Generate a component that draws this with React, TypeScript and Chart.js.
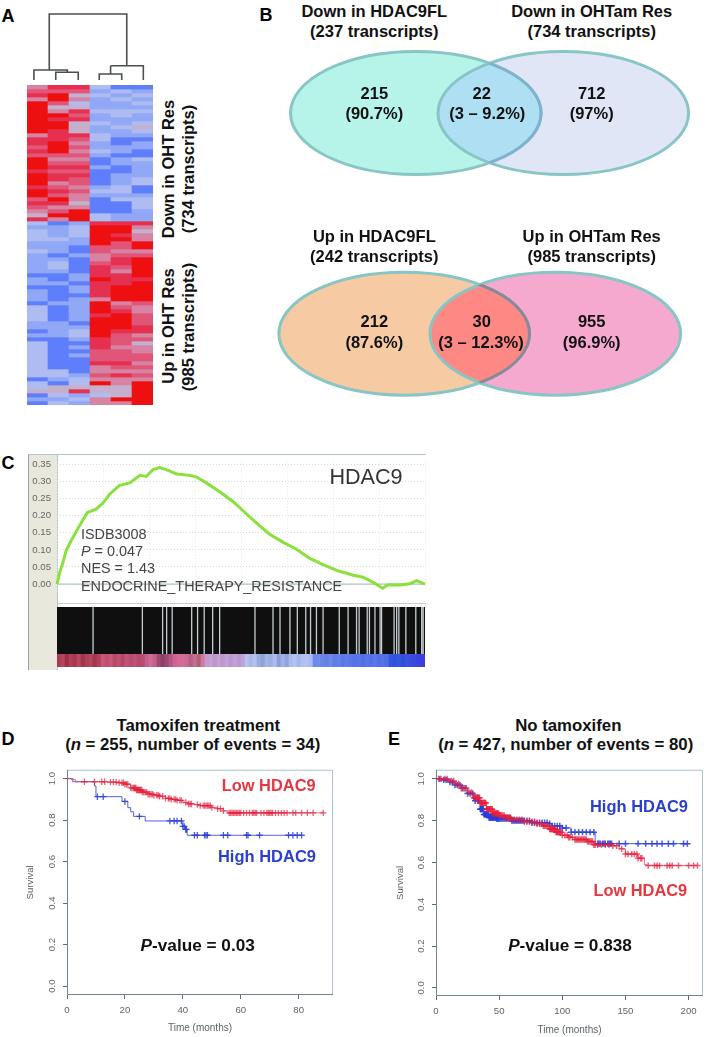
import React, { useEffect, useRef } from "react";
import { Chart, registerables } from "chart.js";

Chart.register(...registerables);

const FONT = '"Liberation Sans", Arial, sans-serif';

// ---------- Panel A: heatmap levels (1 = strong blue ... 8 = strong red), rows top to bottom
const heatCol1 = [5,6,7,5,8,8,8,8,8,8,8,8,5,7,7,6,7,6,8,8,8,7,8,8,8,7,8,8,6,7,6,5,4,7,3,2,3,3,3,2,2,3,2,2,2,2,2,1,2,2,1,2,2,2,1,3,3,3,3,2,2,1,2,1,3,3,3,3,3,3,3,3,3,1,3,3,4,1,2,1];
const heatCol2 = [7,6,8,8,6,4,5,8,7,8,8,7,7,7,8,8,8,6,5,6,7,6,7,7,5,6,7,6,8,7,5,6,8,5,1,2,2,2,3,2,2,2,1,2,3,3,2,1,1,2,1,1,1,1,2,1,1,1,1,2,2,2,2,1,1,1,1,1,1,1,1,3,3,2,1,4,4,3,2,3];
const heatCol3 = [7,6,4,5,3,4,7,6,7,4,4,4,7,6,5,6,5,6,5,6,7,6,7,6,6,5,6,5,5,4,5,8,8,8,2,3,3,3,2,2,1,1,2,1,1,1,1,2,2,1,2,2,1,2,2,2,2,2,2,1,2,3,3,2,1,2,1,2,1,1,1,1,2,3,3,4,7,2,3,2];
const heatCol4 = [3,2,3,2,2,2,3,2,2,3,2,2,3,3,2,2,3,2,1,1,2,1,1,1,1,2,3,2,1,1,1,1,3,3,7,8,8,8,8,8,6,6,5,5,6,7,7,7,8,7,7,7,7,5,8,8,8,7,8,8,8,8,8,7,7,7,6,6,6,7,5,5,6,5,8,4,4,3,5,5];
const heatCol5 = [1,3,2,3,2,2,3,3,2,2,3,2,2,1,1,2,2,1,2,2,1,1,2,2,2,3,3,2,3,1,1,1,2,2,7,8,8,7,8,6,6,5,6,7,7,6,5,7,7,7,8,8,8,8,5,6,7,8,8,8,8,7,6,6,6,5,6,6,6,7,6,5,7,5,5,4,4,4,8,5];
const heatCol6 = [1,2,3,2,3,2,3,2,2,3,4,3,2,1,2,2,1,1,3,2,2,2,2,3,3,1,1,2,3,3,3,2,2,2,7,5,4,5,5,8,8,5,6,8,8,8,8,8,7,8,8,8,8,8,6,5,5,6,6,6,7,7,5,6,4,5,5,6,6,5,6,5,6,5,8,8,8,8,8,8];
const heatColumns = [heatCol1, heatCol2, heatCol3, heatCol4, heatCol5, heatCol6];
const heatSamples = ["S1", "S2", "S3", "S4", "S5", "S6"];
const heatPalette = ["#5f7efb","#90a8f6","#aebcf2","#c4b0cc","#d683a4","#e05578","#e6304f","#ee1010"];

// dendrogram, x in column units, y as merge height; nulls break the path
const dendroX = [0.33,0.33,1.92,1.92,null,1.37,1.37,2.44,2.44,null,1.06,1.06,4.75,4.75,null,3.98,5.54,5.54,null,3.98,3.98,null,3.44,3.44,4.51,4.51];
const dendroY = [0,10,10,7.7,null,0,7.7,7.7,0,null,10,66,66,14.3,null,14.3,14.3,0,null,14.3,6,null,0,6,6,0];

// ---------- Panel B: Venn ellipses (centre x, centre y, radii) in chart units
const vennCx = [145.8, 293.3, 134.2, 285.3];
const vennCy = [73, 73, 293.7, 293.7];
const vennRx = [125.3, 125.3, 125.3, 125.3];
const vennRy = [61.5, 61.5, 61.5, 61.5];
const vennFill = ["#b6f3e9", "#e1e6f6", "#f6cba4", "#f6a9cf"];
const vennOverlap = ["#aedff3", "#fe8884"];
const vennInnerArc = ["#7eb2d0", "#8e8796"];

// ---------- Panel C: enrichment curve
const esRank = [0,0.7,1.6,2.5,3.9,5.7,7.1,8.2,10.7,12.5,14.3,17,19.8,22.5,24.3,26.1,27.9,29.7,32.5,36.1,37.9,40.6,44.2,47.9,51.5,55.1,57.8,61.5,65.1,68.7,72.3,76,80.5,83.2,85.9,88.5,90,93.2,95.9,97.7,100];
const esScore = [0,0.033,0.063,0.098,0.128,0.163,0.189,0.209,0.22,0.237,0.263,0.289,0.296,0.318,0.315,0.335,0.341,0.335,0.322,0.318,0.313,0.296,0.27,0.241,0.205,0.17,0.146,0.122,0.102,0.075,0.057,0.04,0.026,0.02,0.005,-0.012,-0.002,-0.003,0.001,0.01,0];
const esTicks = [0,0.05,0.1,0.15,0.2,0.25,0.3,0.35];
const rugHits = [9.8,23.2,28.7,29.8,31.3,36.6,38.2,40,42.3,44.2,53.8,58.7,60.6,63.3,65.3,67.6,68.9,70.5,72.3,76.7,79.1,81.4,82.1,84.3,84.9,86.4,87.8,88.2,91.6,92.3,92.9,94.8,97.5,99.1,99.5];
const rankStrip = ["#a83a52","#b8455d","#9e3049","#b04058","#a83850","#b8485f","#a03550","#ae3f58","#b24560","#a5364f","#b04258","#c9557a","#c4506f","#c9567b","#b84a68","#c0506f","#b3466a","#c2527a","#b84b70","#bf5076","#b64a6c","#b84d72","#c4608a","#cf6a95","#c65d8c","#9e4a70","#8a4068","#9a4a74","#b65588","#d06492","#d76a95","#d56c98","#c96a90","#b46080","#c0708f","#b06078","#cf7c9c","#c49ad0","#c8a0d4","#be94cc","#c7a0d2","#bc98ce","#c5a2d6","#b899cf","#c2a0d4","#b89ad0","#bda2d6","#b8c0ee","#aab8e8","#b4c0ee","#98acde","#8ea4d8","#a4b4e4","#9cb0e2","#b0bcec","#8aa0dc","#a0b2e6","#8fa4e0","#acbaec","#b4c2f0","#a6b6ea","#b0c0f0","#b4c2f2","#aabaee","#6c88ec","#6e8aec","#6a84ea","#6480e8","#6c88ec","#5f7ce8","#6480ea","#5a78e6","#5f7cea","#5c78e8","#5674e6","#5a76e8","#5270e6","#5874e8","#5472e8","#5a78ea","#5270e6","#5672e8","#5070e6","#3558e0","#3154de","#3558e0","#3050dc","#3a52e0","#3a4cdf","#3b48e0","#3c42e0","#3b3ee2"];

// ---------- Panel D: Kaplan-Meier, tamoxifen treatment
const survTicks = [0,0.2,0.4,0.6,0.8,1];
const dTimeTicks = [0,20,40,60,80];
const dHighTime = [0,2,9.5,10,19,21,22,23,27,40,41,41.5,81];
const dHighSurv = [1,0.985,0.965,0.913,0.89,0.86,0.84,0.818,0.796,0.77,0.755,0.727,0.727];
const dHighCensor = [10.5,12.5,20,25,35.5,37,38,39.5,40,40.5,41,41.2,44,45,47.5,48,48.5,54,55.5,62,62.5,66.5,76.5,78,79.5,81];
const dLowTime = [0,1.5,3,14,18,20,22,24,26,28,30,32,34,36,38,40,42,44,46,50,52,54,55.5,88.5];
const dLowSurv = [1,0.995,0.985,0.983,0.98,0.973,0.955,0.945,0.935,0.925,0.92,0.915,0.905,0.9,0.895,0.885,0.878,0.875,0.87,0.86,0.855,0.845,0.835,0.835];
const dLowCensor = [6,9.5,12,13,15,16,17,18,19,19.5,20,20.5,21,22,22.5,23,23.3,23.5,23.8,24,24.3,24.5,24.8,25,25.3,25.5,25.8,26,26.5,27,27.5,28,28.5,29,29.5,30,31,31.5,32,33,34,35,35.5,36,37,37.5,38,39,39.5,41,42,42.5,43,45,46,47,47.5,48,48.5,49,49.5,50,52,53,54,56,56.5,57,57.5,58,58.5,59,59.5,60,61,62,63,64,64.5,65,65.5,67,68,69,69.5,70,70.5,71,72,73,74,75,76,78,79,81,83,85,88.5];

// ---------- Panel E: Kaplan-Meier, no tamoxifen
const eTimeTicks = [0,50,100,150,200];
const eHighTime = [0,5,10,15,20,25,30,35,38,42,48,60,75,90,92,100,107,126,200];
const eHighSurv = [1,0.995,0.985,0.97,0.955,0.93,0.895,0.855,0.83,0.815,0.81,0.8,0.79,0.785,0.775,0.765,0.745,0.69,0.69];
const eHighCensor = [3,6,8,11,13,15,17,19,21,23,25,27,29,31,33,34,35,35.5,36,36.5,37,37.5,38,38.5,39,39.5,40,40.5,41,41.5,42,42.5,43,43.5,44,44.5,45,45.5,46,46.5,47,47.5,48,48.5,49,49.5,50,51,52,53,54,55,56,57,58,59,60,61,62,63,64,65,66,67,68,69,70,72,74,76,78,80,82,84,86,88,90,92,94,96,98,100,103,107,110,113,116,119,122,125,128,129,130,132,133,134,136,137,138,139,145,150,160,166,171,175,179,184,188,196,199];
const eLowTime = [0,10,15,20,25,30,35,40,45,50,55,60,70,80,85,90,95,100,105,110,120,125,140,145,150,160,165,167,207];
const eLowSurv = [1,0.99,0.975,0.955,0.935,0.91,0.885,0.855,0.835,0.825,0.815,0.805,0.795,0.785,0.775,0.76,0.745,0.73,0.72,0.71,0.7,0.685,0.68,0.665,0.64,0.62,0.59,0.585,0.585];
const eLowCensor = [2,4,7,9,12,14,16,18,20,22,24,26,28,30,30.5,31,31.5,32,32.5,33,33.5,34,34.5,35,35.5,36,36.5,37,37.5,38,38.5,39,39.5,40,40.5,41,41.5,42,42.5,43,43.5,44,44.5,45,45.5,46,46.5,47,47.5,48,48.5,49,49.5,50,51,52,53,54,55,56,57,58,59,60,62,64,66,68,70,72,74,76,78,80,82,84,85,86,87,88,89,90,90.5,91,91.5,92,92.5,93,93.5,94,94.5,95,95.5,96,96.5,97,97.5,98,98.5,99,100,102,104,105,106,108,110,111,112,113,114,115,116,117,118,119,120,121,122,123,124,125,126,128,131,134,137,140,143,147,150,152,155,157,159,160,162,163,168,173,175,177,183,185,187,192,200,204,207];

// ---------- Helpers
function stepValue(times: number[], surv: number[], t: number) {
  let v = surv[0];
  times.forEach((tt, i) => { if (tt <= t) v = surv[i]; });
  return v;
}

function ChartBox({ left, top, width, height, config, style }: any) {
  const ref = useRef<HTMLCanvasElement>(null);
  useEffect(() => {
    const chart = new Chart(ref.current as HTMLCanvasElement, config);
    return () => chart.destroy();
  }, []);
  return <canvas ref={ref} width={width} height={height} style={{ position: "absolute", left, top, width, height, display: "block", ...style }} />;
}

function Txt({ x, y, size = 16.5, bold = true, color = "#111", rotate = 0, children, left = false }: any) {
  return (
    <div style={{
      position: "absolute", left: x, top: y, whiteSpace: "nowrap", fontFamily: FONT, fontSize: size,
      fontWeight: bold ? 700 : 400, color, lineHeight: 1,
      transform: `translate(${left ? "0" : "-50%"},-50%) rotate(${rotate}deg)`,
    }}>{children}</div>
  );
}

const baseOptions = {
  responsive: false, animation: false as const, devicePixelRatio: 1, maintainAspectRatio: false,
  events: [] as any[],
};
const quiet = { legend: { display: false }, tooltip: { enabled: false }, title: { display: false } };

// ---------- Chart configurations
const heatConfig: any = {
  type: "bar",
  data: {
    labels: heatSamples,
    datasets: heatCol1.map((_, r) => ({
      label: `row ${r}`,
      data: heatColumns.map(() => 1),
      backgroundColor: heatColumns.map((c) => heatPalette[c[r] - 1]),
      borderWidth: 0, barPercentage: 1, categoryPercentage: 1,
    })),
  },
  options: {
    ...baseOptions, plugins: quiet, layout: { padding: 0 },
    scales: {
      x: { display: false, stacked: true },
      y: { display: false, stacked: true, reverse: true, min: 0, max: heatCol1.length },
    },
  },
};

const dendroConfig: any = {
  type: "scatter",
  data: { datasets: [{
    data: dendroX.map((x, i) => ({ x, y: dendroY[i] })),
    showLine: true, spanGaps: false, pointRadius: 0, borderColor: "#4a4f52", borderWidth: 1.6,
  }] },
  options: {
    ...baseOptions, plugins: quiet, layout: { padding: 0 },
    scales: { x: { display: false, min: 0, max: 6 }, y: { display: false, min: 0, max: 70 } },
  },
};

const vennPlugin = {
  id: "venn",
  afterDatasetsDraw(chart: any) {
    const { ctx, scales } = chart;
    const px = (i: number) => scales.x.getPixelForValue(vennCx[i]);
    const py = (i: number) => scales.y.getPixelForValue(vennCy[i]);
    const rx = (i: number) => scales.x.getPixelForValue(vennCx[i] + vennRx[i]) - px(i);
    const ry = (i: number) => Math.abs(scales.y.getPixelForValue(vennCy[i] + vennRy[i]) - py(i));
    const path = (i: number) => { ctx.beginPath(); ctx.ellipse(px(i), py(i), rx(i), ry(i), 0, 0, Math.PI * 2); };
    [0, 1].forEach((pair) => {
      const a = pair * 2, b = a + 1;
      ctx.save();
      path(a); ctx.fillStyle = vennFill[a]; ctx.fill();
      path(b); ctx.fillStyle = vennFill[b]; ctx.fill();
      ctx.save(); path(a); ctx.clip(); path(b); ctx.fillStyle = vennOverlap[pair]; ctx.fill(); ctx.restore();
      ctx.lineWidth = 3; ctx.strokeStyle = "#88c5c5";
      path(a); ctx.stroke();
      path(b); ctx.stroke();
      ctx.save(); path(b); ctx.clip(); path(a); ctx.strokeStyle = vennInnerArc[pair]; ctx.stroke(); ctx.restore();
      ctx.restore();
    });
  },
};
const vennConfig: any = {
  type: "scatter",
  data: { datasets: [{ data: vennCx.map((x, i) => ({ x, y: vennCy[i] })), pointRadius: 0 }] },
  plugins: [vennPlugin],
  options: {
    ...baseOptions, plugins: quiet, layout: { padding: 0 },
    scales: { x: { display: false, min: 0, max: 430 }, y: { display: false, reverse: true, min: 0, max: 365 } },
  },
};

const esConfig: any = {
  type: "scatter",
  data: { datasets: [
    { data: esRank.map((x, i) => ({ x, y: esScore[i] })), showLine: true, pointRadius: 0, borderColor: "#8ae03c", borderWidth: 3, order: 0, clip: false },
    { data: [{ x: 0, y: 0 }, { x: 100, y: 0 }], showLine: true, pointRadius: 0, borderColor: "#9fb5bb", borderWidth: 1, order: 1 },
  ] },
  options: {
    ...baseOptions, plugins: quiet, layout: { padding: { top: 5, bottom: 2, right: 5, left: 0 } },
    scales: {
      x: { type: "linear", min: 0, max: 100, ticks: { display: false, stepSize: 12.5 }, grid: { color: "#e4e8e8", drawTicks: false }, border: { display: false, dash: [1, 2] }, afterFit: (s: any) => { s.height = 0; } },
      y: {
        min: -0.0268, max: 0.3578,
        afterBuildTicks: (s: any) => { s.ticks = esTicks.map((value) => ({ value })); },
        afterFit: (s: any) => { s.width = 29; },
        ticks: { autoSkip: false, padding: 6, color: "#666", font: { family: FONT, size: 9.6 }, callback: (v: any) => Number(v).toFixed(2) },
        grid: { color: "#d5d9d9", drawTicks: false }, border: { display: false, dash: [1, 2] },
      },
    },
  },
};

const rugConfig: any = {
  type: "scatter",
  data: { datasets: [
    { data: rugHits.flatMap((x) => [{ x, y: 0 }, { x, y: 1 }, { x: null, y: null }]), showLine: true, spanGaps: false, pointRadius: 0, borderColor: "#c4ced0", borderWidth: 1.3, order: 0 },
    { data: [{ x: 0, y: 1 }, { x: 100, y: 1 }], showLine: true, pointRadius: 0, borderWidth: 0, fill: "origin", backgroundColor: "#0f0f0f", order: 1 },
  ] },
  options: {
    ...baseOptions, plugins: quiet, layout: { padding: 0 },
    scales: { x: { type: "linear", display: false, min: 0, max: 100 }, y: { display: false, min: 0, max: 1 } },
  },
};

const stripConfig: any = {
  type: "bar",
  data: {
    labels: rankStrip.map((_, i) => i),
    datasets: [{ data: rankStrip.map(() => 1), backgroundColor: rankStrip, borderWidth: 0, barPercentage: 1, categoryPercentage: 1 }],
  },
  options: {
    ...baseOptions, plugins: quiet, layout: { padding: 0 },
    scales: { x: { display: false }, y: { display: false, min: 0, max: 1 } },
  },
};

const framePlugin = {
  id: "frame",
  beforeDatasetsDraw(chart: any) {
    const { ctx, chartArea: a } = chart;
    ctx.save();
    ctx.lineWidth = 1;
    ctx.strokeStyle = "#a9c3cb";
    ctx.beginPath();
    ctx.moveTo(a.left, a.top + 0.5); ctx.lineTo(a.right - 0.5, a.top + 0.5); ctx.lineTo(a.right - 0.5, a.bottom);
    ctx.stroke();
    ctx.strokeStyle = "#70858c";
    ctx.beginPath();
    ctx.moveTo(a.left + 0.5, a.top); ctx.lineTo(a.left + 0.5, a.bottom - 0.5); ctx.lineTo(a.right, a.bottom - 0.5);
    ctx.stroke();
    ctx.restore();
  },
};

function kmConfig(o: any): any {
  const series = (t: number[], s: number[], c: number[], line: string, mark: string, order: number) => [
    { data: t.map((x, i) => ({ x, y: s[i] })), showLine: true, stepped: true, pointRadius: 0, borderColor: line, borderWidth: 1, order: order + 1 },
    { data: c.map((x) => ({ x, y: stepValue(t, s, x) })), showLine: false, pointStyle: "cross", pointRadius: 3.2, pointBorderWidth: o.markWidth, pointBorderColor: mark, pointBackgroundColor: mark, order },
  ];
  return {
    type: "scatter",
    data: { datasets: [
      ...series(o.lowT, o.lowS, o.lowC, "rgba(232,60,90,0.75)", "rgba(230,30,60,0.7)", 0),
      ...series(o.highT, o.highS, o.highC, "rgba(50,70,215,0.85)", "rgba(40,60,220,0.85)", 2),
    ] },
    plugins: [framePlugin],
    options: {
      ...baseOptions, plugins: quiet,
      layout: { padding: o.padding },
      scales: {
        x: {
          type: "linear", min: 0, max: o.xMax,
          afterBuildTicks: (s: any) => { s.ticks = o.xTicks.map((value: number) => ({ value })); },
          afterFit: (s: any) => { s.height = o.xH; },
          ticks: { autoSkip: false, maxRotation: 0, padding: 6, color: "#5b6468", font: { family: FONT, size: 9.6 } },
          grid: { drawOnChartArea: false, tickLength: 4, tickColor: "#5d6b70" }, border: { display: false },
          title: { display: true, text: "Time (months)", color: "#5b6468", font: { family: FONT, size: 10 }, padding: o.xTitlePad },
        },
        y: {
          min: o.yMin, max: o.yMax,
          afterBuildTicks: (s: any) => { s.ticks = survTicks.map((value) => ({ value })); },
          afterFit: (s: any) => { s.width = o.yW; },
          ticks: { autoSkip: false, minRotation: 90, maxRotation: 90, crossAlign: "center", padding: 4, color: "#5b6468", font: { family: FONT, size: 9.6 }, callback: (v: any) => Number(v).toFixed(1) },
          grid: { drawOnChartArea: false, tickLength: 4, tickColor: "#5d6b70" }, border: { display: false },
          title: { display: true, text: "Survival", color: "#5b6468", font: { family: FONT, size: 9.6 }, padding: o.yTitlePad },
        },
      },
    },
  };
}

const dConfig = kmConfig({
  lowT: dLowTime, lowS: dLowSurv, lowC: dLowCensor, highT: dHighTime, highS: dHighSurv, highC: dHighCensor,
  xMax: 91.85, xTicks: dTimeTicks, yMin: -0.0427, yMax: 1.0427, yW: 47, xH: 42, markWidth: 1.3,
  padding: { left: 0, top: 6, right: 7, bottom: 0 }, xTitlePad: 3, yTitlePad: 4.5,
});
const eConfig = kmConfig({
  lowT: eLowTime, lowS: eLowSurv, lowC: eLowCensor, highT: eHighTime, highS: eHighSurv, highC: eHighCensor,
  xMax: 211.4, xTicks: eTimeTicks, yMin: -0.0387, yMax: 1.0434, yW: 44, xH: 41, markWidth: 1.5,
  padding: { left: 0, top: 4, right: 6, bottom: 0 }, xTitlePad: 0.5, yTitlePad: 3,
});

const pVal = (v: string) => (<><i>P</i>-value = {v}</>);
const nEvents = (n: number, e: number) => (<>(<i>n</i> = {n}, number of events = {e})</>);

export default function App() {
  return (
    <div style={{ position: "absolute", left: 0, top: 0, width: 709, height: 1037, background: "#fff", overflow: "hidden", filter: "blur(0.45px)" }}>
      {/* Panel A */}
      <ChartBox left={27} top={10} width={126} height={70} config={dendroConfig} />
      <ChartBox left={27} top={85} width={126} height={320} config={heatConfig} style={{ filter: "blur(0.5px)" }} />
      <Txt x={167.7} y={169} rotate={-90}>Down in OHT Res</Txt>
      <Txt x={188} y={169} rotate={-90}>(734 transcripts)</Txt>
      <Txt x={167.7} y={326} rotate={-90}>Up in OHT Res</Txt>
      <Txt x={188} y={326.7} rotate={-90}>(985 transcripts)</Txt>
      <Txt x={8} y={16} size={18} color="#000">A</Txt>

      {/* Panel B */}
      <ChartBox left={270} top={40} width={430} height={365} config={vennConfig} />
      <Txt x={266} y={15} size={18} color="#000">B</Txt>
      <Txt x={374.3} y={10.7}>Down in HDAC9FL</Txt>
      <Txt x={374.3} y={31}>(237 transcripts)</Txt>
      <Txt x={591.7} y={10.7}>Down in OHTam Res</Txt>
      <Txt x={591.7} y={31}>(734 transcripts)</Txt>
      <Txt x={374.3} y={92.7}>215</Txt>
      <Txt x={374.3} y={113.3}>(90.7%)</Txt>
      <Txt x={481.7} y={92.7}>22</Txt>
      <Txt x={487.3} y={113.3}>(3 – 9.2%)</Txt>
      <Txt x={591.7} y={92.7}>712</Txt>
      <Txt x={591.7} y={113.3}>(97%)</Txt>
      <Txt x={374.3} y={236}>Up in HDAC9FL</Txt>
      <Txt x={374.3} y={256.3}>(242 transcripts)</Txt>
      <Txt x={591.7} y={236}>Up in OHTam Res</Txt>
      <Txt x={591.7} y={256.3}>(985 transcripts)</Txt>
      <Txt x={374.3} y={321}>212</Txt>
      <Txt x={374.3} y={341.7}>(87.6%)</Txt>
      <Txt x={481.7} y={321}>30</Txt>
      <Txt x={481} y={341.7}>(3 – 12.3%)</Txt>
      <Txt x={591.7} y={321}>955</Txt>
      <Txt x={591.7} y={341.7}>(96.9%)</Txt>

      {/* Panel C */}
      <Txt x={8} y={463} size={18} color="#000">C</Txt>
      <div style={{ position: "absolute", left: 28, top: 455, width: 29, height: 215, background: "#e9e8dc", borderLeft: "1px solid #93a6ab", boxSizing: "border-box" }} />
      <div style={{ position: "absolute", left: 57, top: 455, width: 1, height: 215, background: "#b0c4c8" }} />
      <div style={{ position: "absolute", left: 28, top: 454, width: 398, height: 1, background: "#b4c6cb" }} />
      <div style={{ position: "absolute", left: 58, top: 603, width: 368, height: 1, background: "#c8d0d0" }} />
      <ChartBox left={28} top={450} width={402} height={155} config={esConfig} />
      <ChartBox left={57} top={607} width={368} height={47} config={rugConfig} />
      <ChartBox left={57} top={654} width={368} height={13} config={stripConfig} style={{ filter: "blur(0.5px)" }} />
      <Txt x={366} y={477} size={21.6} bold={false} color="#333">HDAC9</Txt>
      <Txt x={81} y={534.3} size={14.4} bold={false} color="#444" left>ISDB3008</Txt>
      <Txt x={81} y={551} size={14.4} bold={false} color="#444" left><i>P</i> = 0.047</Txt>
      <Txt x={81} y={568} size={14.4} bold={false} color="#444" left>NES = 1.43</Txt>
      <Txt x={81} y={586} size={14.4} bold={false} color="#444" left>ENDOCRINE_THERAPY_RESISTANCE</Txt>

      {/* Panel D */}
      <ChartBox left={20} top={760} width={320} height={277} config={dConfig} />
      <Txt x={8} y={739} size={18} color="#000">D</Txt>
      <Txt x={198.3} y={725.7} size={16.8}>Tamoxifen treatment</Txt>
      <Txt x={192.7} y={745} size={16.75}>{nEvents(255, 34)}</Txt>
      <Txt x={268.7} y={785} size={16.4} color="#e8353f">Low HDAC9</Txt>
      <Txt x={267} y={856} size={16.5} color="#2a3fd0">High HDAC9</Txt>
      <Txt x={197.7} y={946} size={17.2}>{pVal("0.03")}</Txt>

      {/* Panel E */}
      <ChartBox left={392} top={760} width={317} height={277} config={eConfig} />
      <Txt x={394} y={739} size={18} color="#000">E</Txt>
      <Txt x={568.3} y={725.7} size={16.8}>No tamoxifen</Txt>
      <Txt x={565.7} y={745} size={16.75}>{nEvents(427, 80)}</Txt>
      <Txt x={639} y={806} size={16.5} color="#2a3fd0">High HDAC9</Txt>
      <Txt x={640.3} y={890} size={16.4} color="#e8353f">Low HDAC9</Txt>
      <Txt x={570} y={946} size={17.2}>{pVal("0.838")}</Txt>
    </div>
  );
}
